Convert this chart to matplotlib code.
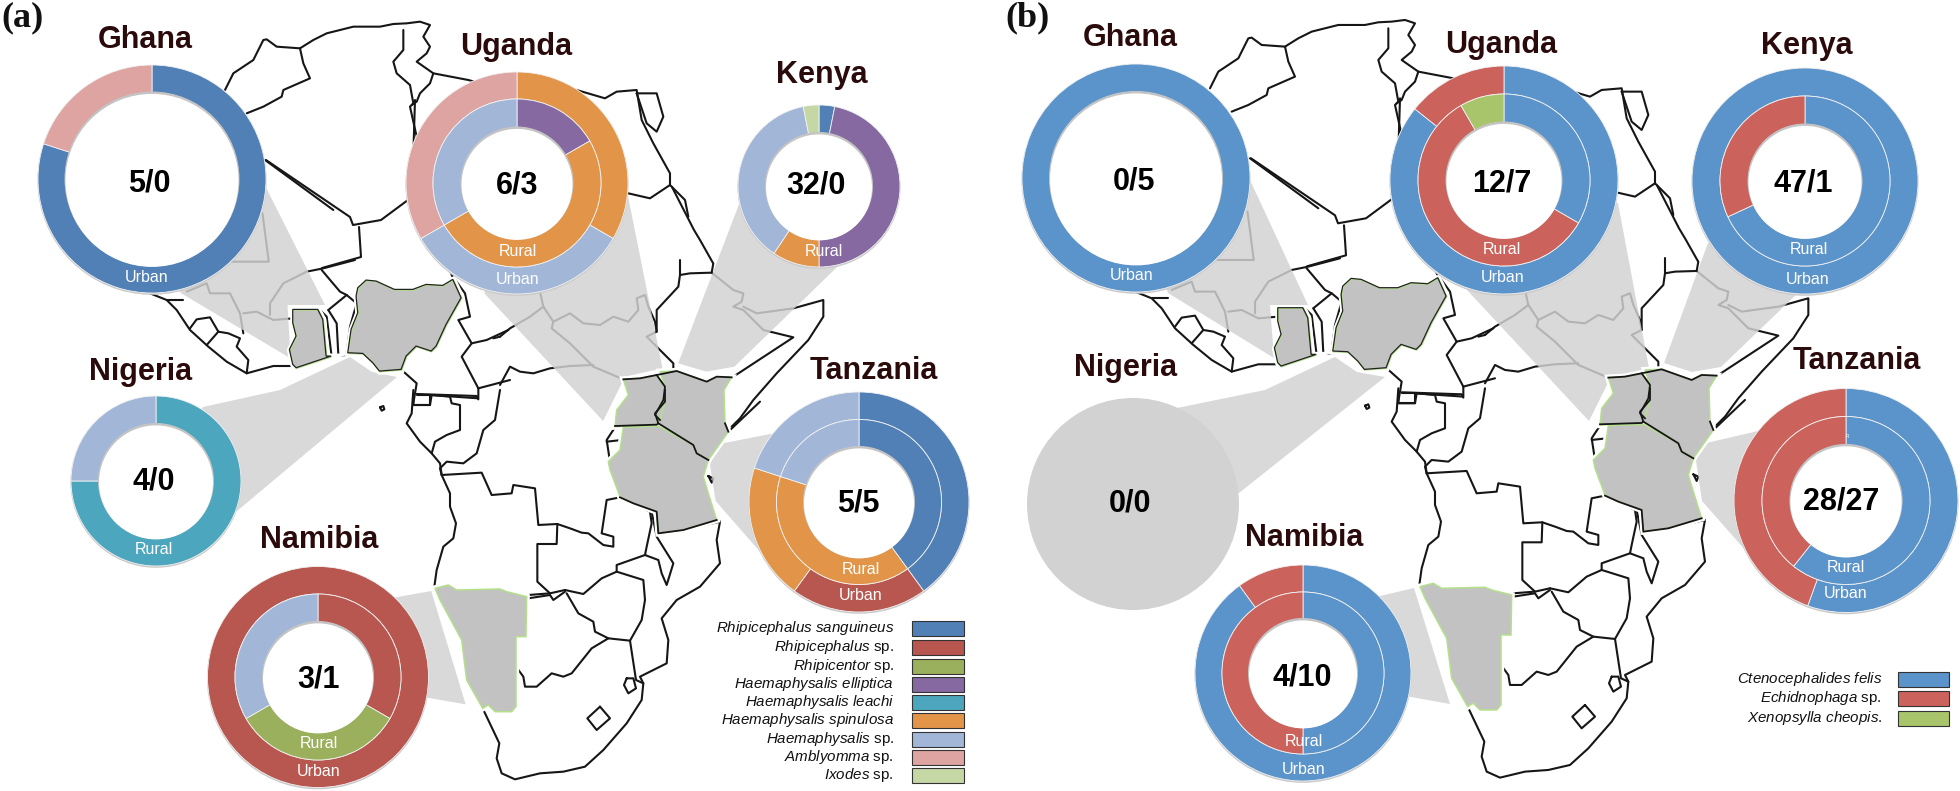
import matplotlib
matplotlib.use("Agg")
import matplotlib.pyplot as plt
from matplotlib.patches import Circle, Polygon, Rectangle

plt.rcParams['font.family'] = ['Liberation Sans', 'DejaVu Sans']
plt.rcParams['mathtext.fontset'] = 'custom'
plt.rcParams['mathtext.it'] = 'Liberation Sans:italic'
plt.rcParams['mathtext.rm'] = 'Liberation Sans'
plt.rcParams['mathtext.bf'] = 'Liberation Sans:bold'

W, H = 1960, 791

# ---------- data ----------
tick_names = ['Rhipicephalus sanguineus', 'Rhipicephalus sp.', 'Rhipicentor sp.', 'Haemaphysalis elliptica',
              'Haemaphysalis leachi', 'Haemaphysalis spinulosa', 'Haemaphysalis sp.', 'Amblyomma sp.', 'Ixodes sp.']
tick_colors = ['#5080B5', '#B85750', '#9BB05C', '#8669A0', '#4CA6BD', '#E29548', '#A2B6D8', '#DDA4A1', '#C6D7A6']
flea_names = ['Ctenocephalides felis', 'Echidnophaga sp.', 'Xenopsylla cheopis.']
flea_colors = ['#5B93CB', '#CB635C', '#A9C56B']
S, RS, RC, HE, HL, HP, HS, AM, IX = range(9)
F, E, X = range(3)

countries = ['Ghana', 'Uganda', 'Kenya', 'Nigeria', 'Tanzania', 'Namibia']
tick_counts = ['5/0', '6/3', '32/0', '4/0', '5/5', '3/1']
flea_counts = ['0/5', '12/7', '47/1', '0/0', '28/27', '4/10']

# (species index, count), clockwise from 12 o'clock
tick_rural = {'Uganda': [(HE, 1), (HP, 3), (HS, 2)], 'Kenya': [(S, 1), (HE, 15), (HP, 3), (HS, 12), (IX, 1)],
              'Nigeria': [(HL, 3), (HS, 1)], 'Tanzania': [(S, 2), (HP, 2), (HS, 1)], 'Namibia': [(RS, 1), (RC, 1), (HS, 1)]}
tick_urban = {'Ghana': [(S, 4), (AM, 1)], 'Uganda': [(HP, 1), (HS, 1), (AM, 1)],
              'Tanzania': [(S, 2), (RS, 1), (HP, 1), (HS, 1)], 'Namibia': [(RS, 1)]}
flea_rural = {'Uganda': [(F, 4), (E, 7), (X, 1)], 'Kenya': [(F, 32), (E, 15)],
              'Tanzania': [(F, 17), (E, 11)], 'Namibia': [(F, 2), (E, 2)]}
flea_urban = {'Ghana': [(F, 5)], 'Uganda': [(F, 6), (E, 1)], 'Kenya': [(F, 1)],
              'Tanzania': [(F, 15), (E, 12)], 'Namibia': [(F, 9), (E, 1)]}

# ---------- layout (full-image pixels) ----------
geom_a = {'Ghana': (152, 179, 114, 0, 86.5), 'Uganda': (517, 183, 111, 84, 55.5), 'Kenya': (819, 186, 81, 0, 53),
          'Nigeria': (156, 481, 85, 0, 57), 'Tanzania': (859, 502, 110, 82.5, 55), 'Namibia': (318, 677, 110.5, 83, 55)}
geom_b = {'Ghana': (1136, 178, 114, 0, 86), 'Uganda': (1504, 180, 114, 86, 57.5), 'Kenya': (1805, 181, 113, 85, 56.5),
          'Tanzania': (1846, 500.5, 112, 84, 55.6), 'Namibia': (1303, 673, 108, 81, 54)}
title_a = {'Ghana': (145, 40), 'Uganda': (516, 47), 'Kenya': (822, 75), 'Nigeria': (141, 372), 'Tanzania': (874, 371), 'Namibia': (319, 540)}
title_b = {'Ghana': (1130, 38), 'Uganda': (1501, 45), 'Kenya': (1807, 46), 'Nigeria': (1126, 368), 'Tanzania': (1857, 361), 'Namibia': (1304, 538)}
num_a = {'Ghana': (149, 184), 'Uganda': (517, 186), 'Kenya': (816, 186), 'Nigeria': (154, 481), 'Tanzania': (858, 504), 'Namibia': (319, 679)}
num_b = {'Ghana': (1134, 182), 'Uganda': (1502, 184), 'Kenya': (1803, 184), 'Nigeria': (1130, 504), 'Tanzania': (1841, 501), 'Namibia': (1302, 677)}
lab_a = [('Urban', 147, 278), ('Rural', 518, 252), ('Urban', 518, 279), ('Rural', 824, 252), ('Rural', 154, 550),
         ('Rural', 319, 744), ('Urban', 319, 772), ('Rural', 861, 570), ('Urban', 861, 596)]
lab_b = [('Urban', 1132, 276), ('Rural', 1502, 250), ('Urban', 1503, 277), ('Rural', 1809, 250), ('Urban', 1808, 279),
         ('Rural', 1304, 742), ('Urban', 1304, 770), ('Rural', 1846, 568), ('Urban', 1846, 594)]

# ---------- map outline: each group read at 3x from a crop with the given origin ----------
def crop(x0, y0, pts):
    return [(x0 + x / 3, y0 + y / 3) for x, y in pts]
def Sc(pts): return crop(400, 390, pts)
def Wc(pts): return crop(150, 260, pts)
def Ec(pts): return crop(500, 260, pts)
def Nc(pts): return crop(220, 10, pts)
def Old(pts): return [(x / 1.6, y / 3) for x, y in pts]

lines = [
    # north
    Nc([(15,240),(40,190),(100,150),(130,90),(140,88),(170,110),(240,115),(280,90),(320,70),(400,50),(480,50),(520,42),(560,40),(600,35),(630,45),(610,80),(630,110),(620,130),(590,155),(640,190),(745,210),(800,225)]),
    Nc([(240,115),(250,160),(270,205),(190,240),(185,260),(130,290),(80,310)]),
    Nc([(550,60),(550,120),(520,155),(530,190),(570,225),(580,280),(570,290),(590,380),(595,560)]),
    Nc([(640,190),(630,220),(600,250),(590,275),(575,285)]),
    Nc([(1000,225),(1070,240),(1155,265),(1190,245),(1250,240),(1265,330),(1300,400),(1350,490),(1350,525),(1395,570),(1405,620)]),
    Nc([(1250,250),(1310,250),(1330,320),(1310,365),(1280,340),(1250,250)]),
    Nc([(1225,550),(1290,565),(1350,525)]),
    Nc([(135,450),(340,600)]),
    [(266,160),(350,217),(353,225),(381,220),(412,197),(415,100)],
    [(359,227),(361,257),(322,268)],
    [(412,197),(453,277)],
    [(672,187),(694,230),(700,240),(713,263)],
    Old([(420,640),(430,785),(370,785)]),
    # west Africa
    Wc([(0,100),(50,120),(80,150),(120,210),(175,260),(230,305),(290,340),(370,318),(430,318)]),
    Wc([(50,120),(100,120)]),
    Wc([(120,205),(140,178),(180,172),(205,215),(170,255)]),
    Wc([(205,215),(235,220),(270,235),(260,260),(295,300),(290,340)]),
    Wc([(280,220),(270,160),(240,100),(180,100),(170,70),(110,95)]),
    Wc([(280,160),(320,155),(370,180),(430,175)]),
    Wc([(360,165),(360,130),(400,70),(470,35),(520,25),(615,0)]),
    Wc([(515,30),(570,95),(590,105)]),
    Wc([(510,150),(530,170),(545,290)]),
    Wc([(535,150),(560,190),(565,285)]),
    Wc([(535,150),(590,105),(620,130),(600,200),(590,280)]),
    Wc([(545,288),(590,285),(640,283)]),
    Wc([(905,45),(945,100),(960,170),(925,180),(965,250),(935,290),(985,385)]),
    Wc([(965,250),(1010,240),(1075,210)]),
    Wc([(985,385),(1080,360)]),
    Wc([(755,330),(800,370),(790,430)]),
    Wc([(800,405),(840,405),(840,435),(790,435)]),
    Wc([(840,405),(985,415),(985,385)]),
    # east Africa
    Ec([(0,230),(30,205),(90,170),(130,140),(120,95)]),
    Ec([(130,140),(160,185),(155,205),(210,250),(280,320),(370,358)]),
    Ec([(160,185),(210,160),(250,190),(300,195),(340,170),(385,185),(415,150),(410,115),(435,105),(445,140),(465,185),(470,215),(440,230),(480,270),(520,310),(520,330)]),
    Ec([(470,215),(470,150),(535,80),(540,45),(570,40),(635,38)]),
    Ec([(540,0),(540,45)]),
    Ec([(640,10),(635,38),(700,90),(730,100),(725,125),(700,140),(730,150),(790,210),(880,232),(700,350)]),
    Ec([(730,140),(770,160),(880,145),(970,120),(970,170),(925,240),(830,340),(760,420),(720,475),(695,500)]),
    Ec([(0,375),(30,320),(60,335),(100,340),(150,325),(210,318),(280,315)]),
    Ec([(0,230),(-20,235)]),
    # south Africa
    Sc([(985,125),(925,210),(910,260),(925,310),(950,390),(960,395),(950,450),(960,520),(900,590),(830,630),(785,685),(805,750),(800,820),(720,860),(730,880),(725,930),(680,1000),(610,1080),(555,1130),(490,1145),(420,1150),(345,1168),(305,1150),(290,1105),(298,1060),(248,955),(200,870),(185,750),(120,630),(103,590),(110,540),(130,470),(160,445),(168,400),(150,350),(150,310),(125,255),(120,220),(95,190),(60,155),(20,100),(35,70),(40,0)]),
    Sc([(1080,35),(985,125)]),
    Sc([(125,255),(245,248),(275,315),(335,310),(340,285),(405,295),(415,405),(472,402),(470,462),(412,462),(412,575),(450,610)]),
    Sc([(472,402),(510,415),(545,428),(565,430),(610,465),(640,470),(640,440),(605,430),(620,330),(660,322),(700,340),(750,365),(755,400),(740,470),(735,495),(650,525),(650,545),(605,565),(550,612),(495,600)]),
    Sc([(385,625),(450,615),(460,630),(495,605)]),
    Sc([(385,615),(450,610),(495,600)]),
    Sc([(500,610),(535,670),(580,695),(585,725),(625,745),(575,775),(515,850),(490,860),(455,850),(410,890),(375,890),(370,860),(348,830)]),
    Sc([(625,745),(690,752),(725,690),(735,630),(730,570),(650,545)]),
    Sc([(690,752),(708,870),(730,880)]),
    Sc([(680,865),(700,865),(708,895),(685,910),(672,885),(680,865)]),
    Sc([(600,950),(630,985),(590,1020),(562,985),(600,950)]),
    Sc([(755,365),(770,440),(820,520),(800,585),(785,550),(775,510),(735,495)]),
    Sc([(775,430),(850,420),(960,395)]),
    Sc([(645,112),(620,150),(630,215)]),
    Sc([(620,155),(665,150)]),
    Sc([(40,15),(40,45),(90,45),(95,15),(150,20),(155,40),(180,45),(180,120),(140,135),(105,155),(95,190)]),
    Sc([(50,12),(230,18),(235,28)]),
    Sc([(300,0),(285,90),(250,120),(230,190),(190,220),(140,215),(120,235),(125,255)]),
    # islands
    Sc([(925,258),(940,265),(935,278),(925,258)]),
    Wc([(690,442),(700,438),(703,448),(695,452),(690,442)]),
]
inner_lines = [
    Ec([(470,345),(495,380),(490,420),(465,465),(480,480)]),
    Sc([(775,100),(880,165),(890,190),(925,210)]),
    Sc([(645,108),(770,104),(775,100),(765,70),(795,35),(795,0)]),
    Sc([(975,100),(985,125)]),
    Ec([(370,358),(420,355),(470,345),(530,333),(620,365),(650,350),(695,352)]),
    Sc([(660,322),(700,340),(770,365),(775,430),(850,420),(950,390)]),
]
ghana_poly = Wc([(430,150),(505,150),(520,180),(530,290),(545,290),(440,325),(430,315),(420,270),(440,230),(430,190)])
nigeria_poly = Wc([(625,85),(650,62),(680,65),(735,90),(790,90),(830,75),(880,78),(910,60),(935,115),(890,195),(860,260),(845,275),(800,260),(770,290),(755,330),(690,335),(670,310),(640,282),(595,280),(605,210),(625,160),(620,110)])
uganda_poly = Ec([(370,358),(420,355),(470,345),(495,380),(490,420),(465,465),(480,480)]) + Sc([(795,35),(765,70),(775,100),(770,104),(645,110),(650,60),(685,15)])
kenya_poly = Ec([(480,335),(530,333),(620,365),(650,350),(695,352),(672,390)]) + Sc([(975,100),(985,125),(925,210),(890,190),(880,165),(775,100),(765,70),(795,35)]) + Ec([(480,480),(465,465),(490,420),(495,380)])
tanz_poly = Sc([(670,112),(775,108),(880,165),(890,190),(925,210),(910,260),(925,310),(950,390),(850,420),(775,430),(770,365),(700,340),(660,320),(630,240),(625,215),(660,180)])
nami_poly = Sc([(105,595),(145,585),(170,600),(300,597),(320,605),(380,620),(378,740),(348,740),(348,950),(335,965),(285,965),(265,945),(248,955),(200,870),(185,750),(120,630)])
highlight = [ghana_poly, nigeria_poly, uganda_poly, kenya_poly, tanz_poly, nami_poly]

callouts_a = [Old([(425,560),(520,915),(460,915),(465,1075),(290,880),(200,600)]),
              Old([(1005,590),(1060,1105),(1000,1130),(965,1263),(775,880),(800,600)]),
              Old([(1185,600),(1085,1090),(1130,1115),(1175,1100),(1340,800),(1300,600)]),
              [(350,357),(372,372),(397,377),(237,511),(156,481),(203,407),(280,390)],
              Old([(1235,1301),(1148,1333),(1135,1383),(1145,1503),(1215,1653),(1350,1473)]),
              Old([(690,1773),(745,2113),(500,2033),(630,1793)])]
# panel b callouts, given relative to panel a's map offset
DX, DY = 985, -1.7
callouts_b = [[(x - DX, y - DY) for x, y in c] for c in [
    [(1250,180),(1308,305),(1270,305),(1274,358),(1168,293),(1136,200)],
    [(1618,203),(1649,368),(1611,377),(1589,421),(1467,290),(1499,200)],
    [(1708,243),(1664,363),(1692,372),(1721,367),(1798,293),(1805,200)],
    [(1335,357),(1357,372),(1385,377),(1239,493),(1133,504),(1177,408),(1265,390)],
    [(1758,431),(1702,444),(1696,461),(1702,501),(1746,551),(1843,491)],
    [(1414,588),(1450,704),(1299,677),(1380,596)]]]

# ---------- drawing ----------
fig = plt.figure(figsize=(W / 100, H / 100), dpi=100)
ax = fig.add_axes([0, 0, 1, 1])

def P(pts, dx=0.0, dy=0.0):
    return [(x + dx, H - (y + dy)) for x, y in pts]

def draw_map(dx, dy, callouts):
    for b in lines:
        ax.plot(*zip(*P(b, dx, dy)), color='#161616', lw=1.5, zorder=1, solid_joinstyle='round', solid_capstyle='round')
    for c in callouts:
        ax.add_patch(Polygon(P(c, dx, dy), closed=True, fc='#D2D2D2', ec='none', alpha=0.84, zorder=2))
    for h in highlight:
        ax.add_patch(Polygon(P(h, dx, dy), closed=True, fc='white', ec='white', lw=4.5, zorder=2.5))
    for h in highlight:
        ax.add_patch(Polygon(P(h, dx, dy), closed=True, fc='#C2C2C2', ec='#B4E08C', lw=1.1, zorder=3))
    for b in inner_lines:
        ax.plot(*zip(*P(b, dx, dy)), color='#161616', lw=1.3, zorder=3.2, solid_joinstyle='round')
    for h in (ghana_poly, nigeria_poly):
        ax.add_patch(Polygon(P(h, dx - 0.6, dy - 0.6), closed=True, fill=False, ec='#222222', lw=0.9, zorder=3.05))

def ring(cx, cy, r_out, r_in, parts, colors):
    vals = [p[1] for p in parts]
    cols = [colors[p[0]] for p in parts]
    ax.pie(vals, colors=cols, radius=r_out, center=(cx, H - cy), startangle=90, counterclock=False,
           wedgeprops=dict(width=r_out - r_in, edgecolor='#F2F2F2', linewidth=0.6, zorder=6), frame=False)

def donut(geom, name, rural, urban, colors):
    cx, cy, ro, rm, rh = geom
    ax.add_patch(Circle((cx, H - cy - 1.2), ro + 0.6, fc='#C9C9C9', ec='none', zorder=4))
    ax.add_patch(Circle((cx, H - cy), rh + 1, fc='#C4C4C4', ec='none', zorder=7))
    ax.add_patch(Circle((cx, H - cy - 1.4), rh, fc='white', ec='none', zorder=7.1))
    r, u = rural.get(name), urban.get(name)
    if r and u:
        ring(cx, cy, ro, rm, u, colors)
        ring(cx, cy, rm, rh, r, colors)
    else:
        ring(cx, cy, ro, rh, r or u, colors)

def texts(titles, nums, counts, labs):
    for n, c in zip(countries, counts):
        x, y = titles[n]
        ax.text(x, H - y, n, fontsize=22, fontweight='bold', color='#2A0A0A', ha='center', va='center', zorder=9)
        x, y = nums[n]
        ax.text(x, H - y, c, fontsize=22, fontweight='bold', color='black', ha='center', va='center', zorder=9)
    for t, x, y in labs:
        ax.text(x, H - y, t, fontsize=11.5, color='white', ha='center', va='center', zorder=9)

def legend_label(name):
    if name.endswith(' sp.'):
        return r'$\mathit{' + name[:-4] + r'}$ sp.'
    return r'$\mathit{' + name.replace(' ', r'\ ') + r'}$'

def legend(names, colors, rows, x0, x1, xt):
    for n, c, y in zip(names, colors, rows):
        ax.add_patch(Rectangle((x0, H - y - 7.5), x1 - x0, 15, fc=c, ec='#333333', lw=0.8, zorder=5))
        ax.text(xt, H - y, legend_label(n), fontsize=10.9, color='#111111', ha='right', va='center', zorder=9)

draw_map(0, 0, callouts_a)
draw_map(DX, DY, callouts_b)

for n in countries:
    donut(geom_a[n], n, tick_rural, tick_urban, tick_colors)
    if n in geom_b:
        donut(geom_b[n], n, flea_rural, flea_urban, flea_colors)

ax.add_patch(Circle((1133, H - 504), 106, fc='#D2D2D2', ec='none', zorder=4))

texts(title_a, num_a, tick_counts, lab_a)
texts(title_b, num_b, flea_counts, lab_b)
ax.text(1847, H - 437, 'R', fontsize=3.5, color='white', ha='center', va='center', zorder=9)

legend(tick_names, tick_colors, [628, 647, 666, 684, 702, 720, 739, 757, 775], 912, 964, 894)
legend(flea_names, flea_colors, [679, 698, 718], 1898, 1949, 1882)

for lab, x in (('(a)', 1), ('(b)', 1005)):
    ax.text(x, H - 18, lab, fontsize=26, fontweight='bold', family='Liberation Serif', color='#111111', ha='left', va='center', zorder=9)

ax.set_xlim(0, W)
ax.set_ylim(0, H)
ax.set_position([0, 0, 1, 1])
ax.axis('off')
fig.savefig('out.png', dpi=100, facecolor='white')
